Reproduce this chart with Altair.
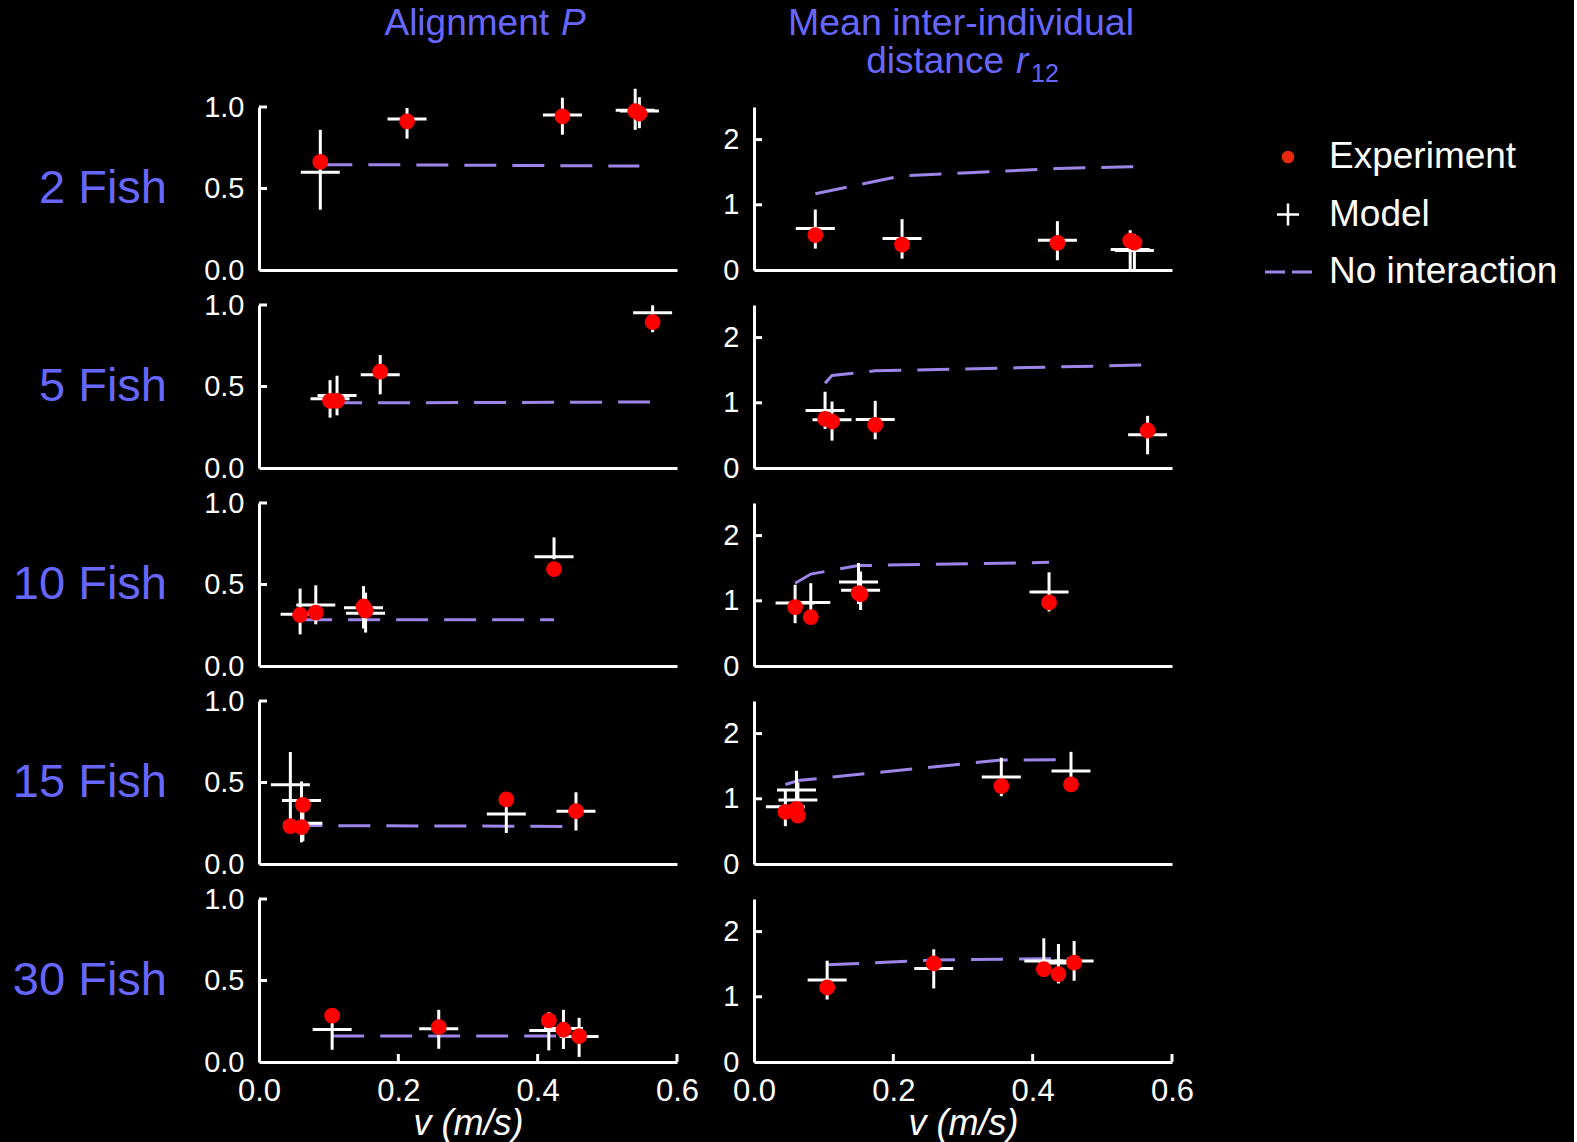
import altair as alt
import pandas as pd

FONT = "Liberation Sans"
BLUE = "#6767ff"
PURPLE = "#9d84e8"
RED = "#ff0000"
LEGEND_RED = "#e8290b"
WHITE = "#ffffff"

FISH = [2, 5, 10, 15, 30]

# swimming speed v (m/s) of each condition (shared by experiment and model)
SPEED = {
    2: [0.088, 0.2125, 0.4355, 0.540, 0.546],
    5: [0.102, 0.112, 0.174, 0.565],
    10: [0.059, 0.0815, 0.150, 0.153, 0.4235],
    15: [0.045, 0.061, 0.063, 0.355, 0.455],
    30: [0.105, 0.258, 0.416, 0.437, 0.4595],
}

# Alignment P
P_EXP = {
    2: [0.663, 0.912, 0.943, 0.975, 0.960],
    5: [0.412, 0.412, 0.591, 0.895],
    10: [0.313, 0.328, 0.365, 0.340, 0.594],
    15: [0.232, 0.226, 0.363, 0.396, 0.324],
    30: [0.285, 0.214, 0.255, 0.198, 0.159],
}
P_MOD = {
    2: [0.600, 0.926, 0.951, 0.980, 0.975],
    5: [0.425, 0.445, 0.572, 0.952],
    10: [0.317, 0.375, 0.358, 0.323, 0.670],
    15: [0.486, 0.390, 0.250, 0.307, 0.324],
    30: [0.200, 0.204, 0.194, 0.205, 0.157],
}
P_LO = {
    2: [0.37, 0.806, 0.830, 0.86, 0.87],
    5: [0.309, 0.323, 0.452, 0.833],
    10: [0.194, 0.256, 0.23, 0.205, 0.655],
    15: [0.246, 0.133, 0.14, 0.19, 0.205],
    30: [0.075, 0.081, 0.071, 0.08, 0.031],
}
P_HI = {
    2: [0.86, 0.994, 1.057, 1.112, 1.06],
    5: [0.539, 0.566, 0.693, 0.998],
    10: [0.475, 0.495, 0.49, 0.45, 0.789],
    15: [0.687, 0.506, 0.35, 0.42, 0.44],
    30: [0.32, 0.32, 0.306, 0.32, 0.271],
}
P_NULL = {
    2: [0.645, 0.645, 0.640, 0.638, 0.638],
    5: [0.40, 0.40, 0.40, 0.405],
    10: [0.283, 0.283, 0.283, 0.283, 0.283],
    15: [0.24, 0.236, 0.236, 0.232, 0.23],
    30: [0.159, 0.159, 0.159, 0.159, 0.159],
}

# Mean inter-individual distance r12
R_EXP = {
    2: [0.534, 0.390, 0.415, 0.45, 0.42],
    5: [0.753, 0.713, 0.661, 0.575],
    10: [0.903, 0.749, 1.118, 1.10, 0.975],
    15: [0.80, 0.846, 0.743, 1.195, 1.22],
    30: [1.143, 1.512, 1.425, 1.348, 1.523],
}
R_MOD = {
    2: [0.636, 0.482, 0.456, 0.313, 0.30],
    5: [0.88, 0.74, 0.743, 0.509],
    10: [0.965, 0.975, 1.288, 1.16, 1.134],
    15: [0.877, 1.134, 0.98, 1.334, 1.426],
    30: [1.256, 1.435, 1.55, 1.52, 1.548],
}
R_LO = {
    2: [0.328, 0.174, 0.149, 0.01, 0.01],
    5: [0.60, 0.42, 0.44, 0.21],
    10: [0.657, 0.71, 0.95, 0.86, 0.837],
    15: [0.58, 0.85, 0.72, 1.04, 1.12],
    30: [0.958, 1.128, 1.308, 1.205, 1.246],
}
R_HI = {
    2: [0.928, 0.780, 0.749, 0.61, 0.55],
    5: [1.17, 1.02, 1.03, 0.80],
    10: [1.246, 1.27, 1.58, 1.45, 1.437],
    15: [1.15, 1.43, 1.25, 1.63, 1.72],
    30: [1.554, 1.728, 1.897, 1.81, 1.855],
}
R_NULL = {
    2: [1.17, 1.445, 1.555, 1.585, 1.585],
    5: [1.30, 1.42, 1.49, 1.58],
    10: [1.27, 1.41, 1.54, 1.54, 1.59],
    15: [1.22, 1.27, 1.28, 1.595, 1.60],
    30: [1.49, 1.565, 1.585, 1.585, 1.585],
}

X_DOMAIN = [0, 0.6]
X_TICKS = [0.2, 0.4, 0.6]
X_LABELS = [0, 0.2, 0.4, 0.6]
P_DOMAIN = [0, 1]
P_TICKS = [0.5, 1.0]
P_LABELS = [0, 0.5, 1.0]
R_DOMAIN = [0, 2.5]
R_TICKS = [1, 2]
R_LABELS = [0, 1, 2]
LEGEND = ["Experiment", "Model", "No interaction"]

W = 418
H = 163
LEG_W = 320


def make_panel(n, quantity, first_row, last_row):
    v = SPEED[n]
    if quantity == "P":
        exp, mod, lo, hi, null = P_EXP[n], P_MOD[n], P_LO[n], P_HI[n], P_NULL[n]
        ydom, yticks, ylabels, yfmt = P_DOMAIN, P_TICKS, P_LABELS, ".1f"
    else:
        exp, mod, lo, hi, null = R_EXP[n], R_MOD[n], R_LO[n], R_HI[n], R_NULL[n]
        ydom, yticks, ylabels, yfmt = R_DOMAIN, R_TICKS, R_LABELS, "d"

    xscale = alt.Scale(domain=X_DOMAIN, nice=False, zero=False)
    yscale = alt.Scale(domain=ydom, nice=False, zero=False)

    if last_row:
        xaxis = alt.Axis(values=X_LABELS, format=".1f", ticks=False, tickSize=0,
                         labelPadding=14, labelFontSize=31, labelColor=WHITE,
                         labelFlush=False, domainColor=WHITE, domainWidth=3,
                         grid=False, title="v (m/s)", titleFontSize=36,
                         titleFontStyle="italic", titleFontWeight="normal",
                         titleColor=WHITE, titlePadding=0)
    else:
        xaxis = alt.Axis(labels=False, ticks=False, tickSize=0, domainColor=WHITE,
                         domainWidth=3, grid=False, title=None)
    yaxis = alt.Axis(values=ylabels, format=yfmt, ticks=False, tickSize=0,
                     labelPadding=15, labelFontSize=29, labelColor=WHITE,
                     labelFlush=False, domainColor=WHITE, domainWidth=3,
                     grid=False, title=None)

    X = alt.X("v:Q", scale=xscale, axis=xaxis)

    df_null = pd.DataFrame({"v": v, "y": null})
    df_mod = pd.DataFrame({"v": v, "y": mod, "lo": lo, "hi": hi})
    df_exp = pd.DataFrame({"v": v, "y": exp})

    line = alt.Chart(df_null).mark_line(
        color=PURPLE, strokeWidth=3, strokeDash=[32, 16]
    ).encode(x=X, y=alt.Y("y:Q", scale=yscale, axis=yaxis))

    err = alt.Chart(df_mod).mark_rule(color=WHITE, strokeWidth=3).encode(
        x=X, y=alt.Y("lo:Q", scale=yscale, axis=yaxis), y2="hi:Q")

    tick = alt.Chart(df_mod).mark_tick(
        orient="horizontal", color=WHITE, size=39, thickness=3, opacity=1
    ).encode(x=X, y=alt.Y("y:Q", scale=yscale, axis=yaxis))

    dots = alt.Chart(df_exp).mark_circle(color=RED, size=250, opacity=1).encode(
        x=X, y=alt.Y("y:Q", scale=yscale, axis=yaxis))

    yt = alt.Chart(pd.DataFrame({"t": yticks})).mark_rule(
        color=WHITE, strokeWidth=3).encode(
        y=alt.Y("t:Q", scale=yscale, axis=yaxis), x=alt.value(0), x2=alt.value(8))

    layers = [line, err, tick, dots, yt]

    if last_row:
        xt = alt.Chart(pd.DataFrame({"t": X_TICKS})).mark_rule(
            color=WHITE, strokeWidth=3).encode(
            x=alt.X("t:Q", scale=xscale, axis=xaxis), y=alt.value(H), y2=alt.value(H - 8))
        layers.append(xt)

    if quantity == "P":
        lab = alt.Chart(pd.DataFrame({"label": [f"{n} Fish"]})).mark_text(
            align="right", baseline="alphabetic", fontSize=47, color=BLUE
        ).encode(text="label:N", x=alt.value(-92), y=alt.value(96))
        layers.append(lab)

    if first_row:
        if quantity == "P":
            t1 = alt.Chart(pd.DataFrame({"s": ["Alignment"]})).mark_text(
                align="right", baseline="alphabetic", fontSize=37, color=BLUE
            ).encode(text="s:N", x=alt.value(290), y=alt.value(-72))
            t2 = alt.Chart(pd.DataFrame({"s": ["P"]})).mark_text(
                align="left", baseline="alphabetic", fontSize=37, color=BLUE,
                fontStyle="italic"
            ).encode(text="s:N", x=alt.value(302), y=alt.value(-72))
            layers += [t1, t2]
        else:
            t1 = alt.Chart(pd.DataFrame({"s": ["Mean inter-individual"]})).mark_text(
                align="center", baseline="alphabetic", fontSize=37.5, color=BLUE
            ).encode(text="s:N", x=alt.value(207), y=alt.value(-72))
            t2 = alt.Chart(pd.DataFrame({"s": ["distance"]})).mark_text(
                align="right", baseline="alphabetic", fontSize=37, color=BLUE
            ).encode(text="s:N", x=alt.value(250), y=alt.value(-34))
            t3 = alt.Chart(pd.DataFrame({"s": ["r"]})).mark_text(
                align="left", baseline="alphabetic", fontSize=37, color=BLUE,
                fontStyle="italic"
            ).encode(text="s:N", x=alt.value(262), y=alt.value(-34))
            t4 = alt.Chart(pd.DataFrame({"s": ["12"]})).mark_text(
                align="left", baseline="alphabetic", fontSize=25, color=BLUE
            ).encode(text="s:N", x=alt.value(277), y=alt.value(-25))
            layers += [t1, t2, t3, t4]

    return alt.layer(*layers).properties(width=W, height=H)


def make_legend():
    df = pd.DataFrame({"label": LEGEND})
    Y = alt.Y("label:N", scale=alt.Scale(type="point", domain=LEGEND,
                                         range=[50, 165], padding=0), axis=None)
    base = alt.Chart(df)
    dot = base.mark_point(filled=True, shape="circle", size=160, color=LEGEND_RED,
                          opacity=1).encode(x=alt.value(39), y=Y).transform_filter(
        alt.datum.label == LEGEND[0])
    cross = base.mark_point(filled=False, shape="M-1,0H1M0,-1V1", size=484,
                            color=WHITE, strokeWidth=2.5, opacity=1).encode(
        x=alt.value(39), y=Y).transform_filter(alt.datum.label == LEGEND[1])
    dash = base.mark_rule(color=PURPLE, strokeWidth=3, strokeDash=[20, 7]).encode(
        x=alt.value(16), x2=alt.value(64), y=Y).transform_filter(
        alt.datum.label == LEGEND[2])
    txt = base.mark_text(align="left", baseline="middle", fontSize=37,
                         color=WHITE).encode(text="label:N", x=alt.value(80), y=Y)
    return alt.layer(dot, cross, dash, txt).properties(width=LEG_W, height=H)


def blank():
    return alt.Chart(pd.DataFrame({"s": [""]})).mark_text().encode(
        text="s:N").properties(width=LEG_W, height=H)


cells = []
for i, n in enumerate(FISH):
    first = i == 0
    last = i == len(FISH) - 1
    cells.append(make_panel(n, "P", first, last))
    cells.append(make_panel(n, "r", first, last))
    cells.append(make_legend() if first else blank())

chart = alt.concat(
    *cells, columns=3, spacing={"row": 35, "column": 77}, bounds="flush"
).configure(
    font=FONT, background="black",
    padding={"left": 12, "top": 5, "right": 5, "bottom": 5}
).configure_view(stroke=None)

chart.save("out.html", embed_options={"renderer": "svg", "actions": False})
